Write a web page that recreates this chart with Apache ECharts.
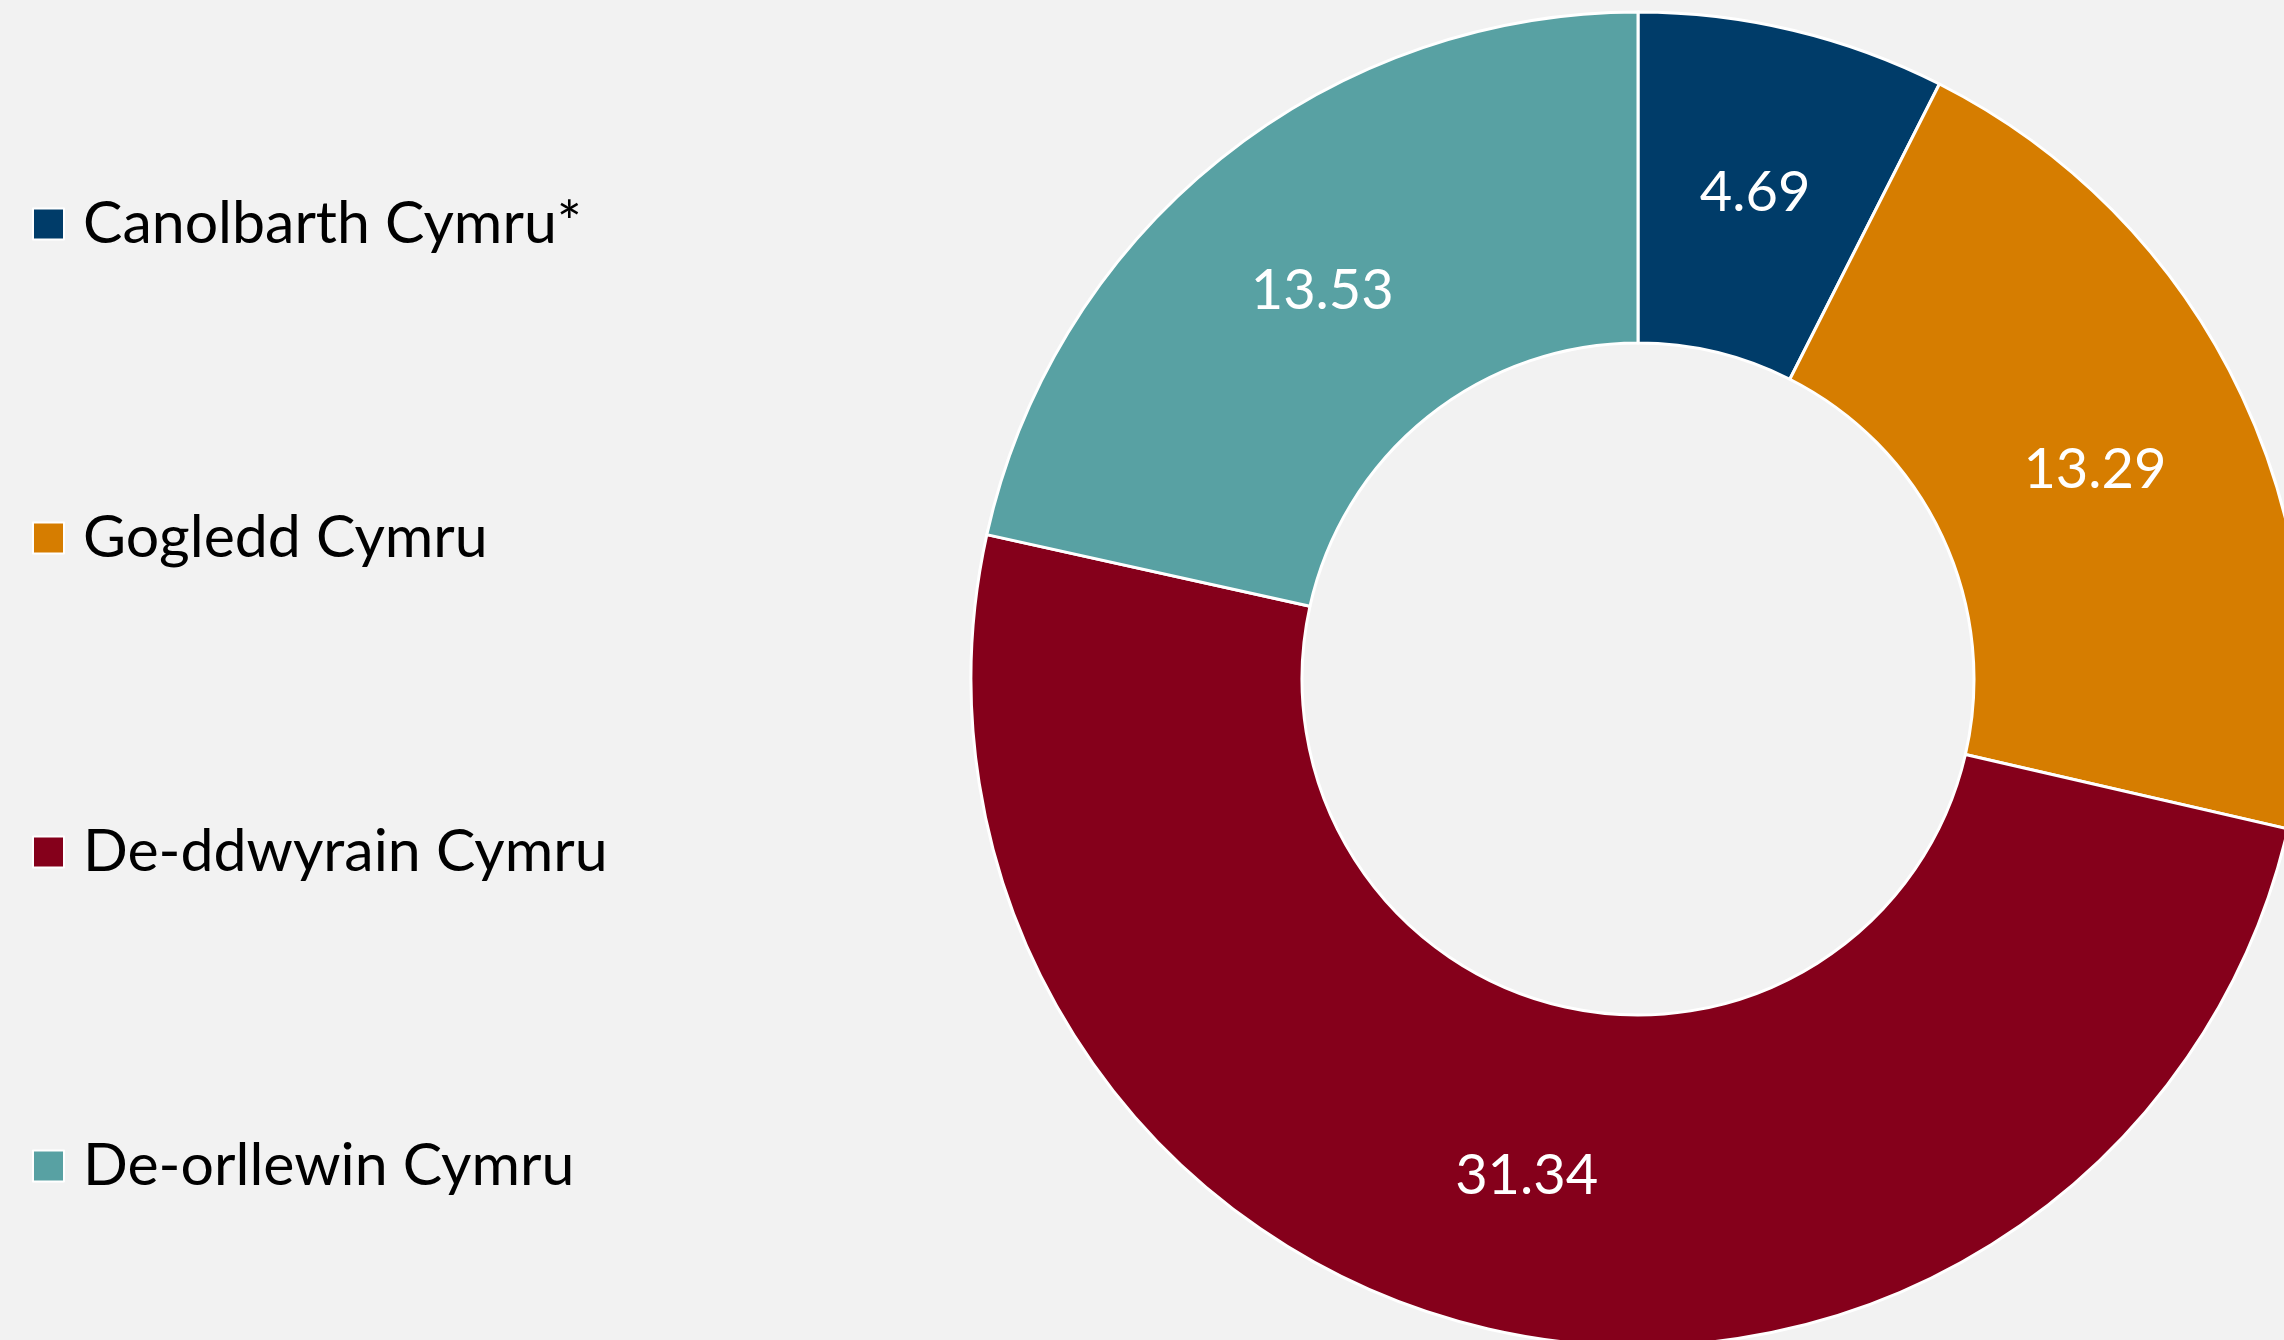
<!DOCTYPE html>
<html>
<head>
<meta charset="utf-8">
<script src="https://cdn.jsdelivr.net/npm/echarts@6/dist/echarts.min.js"></script>
<style>
  html, body { margin: 0; padding: 0; background: #f2f2f2; }
  #chart { width: 2284px; height: 1340px; }
</style>
</head>
<body>
<div id="chart"></div>
<script>
const regions = ['Canolbarth Cymru*', 'Gogledd Cymru', 'De-ddwyrain Cymru', 'De-orllewin Cymru']
const values = [4.69, 13.29, 31.34, 13.53]
const colors = ['#003c69', '#d67d00', '#85001b', '#58a1a3']

const chart = echarts.init(document.getElementById('chart'))
chart.setOption({
  animation: false,
  backgroundColor: '#f2f2f2',
  color: colors,
  legend: {
    orient: 'vertical',
    left: 27,
    top: 185,
    icon: 'rect',
    itemWidth: 31,
    itemHeight: 31,
    itemGap: 246,
    selectedMode: false,
    textStyle: {
      fontFamily: 'Lato',
      fontSize: 59,
      lineHeight: 60,
      color: '#000',
      padding: [8, 0, 0, 14]
    },
    data: regions
  },
  series: [{
    type: 'pie',
    center: [1638, 679],
    radius: [336, 667],
    startAngle: 90,
    clockwise: true,
    itemStyle: { borderColor: '#fff', borderWidth: 3 },
    label: {
      show: true,
      position: 'inside',
      formatter: '{c}',
      color: '#fff',
      fontFamily: 'Lato',
      fontSize: 56
    },
    labelLayout: { dy: 5 },
    labelLine: { show: false },
    emphasis: { disabled: true },
    data: regions.map((name, i) => ({ name, value: values[i] }))
  }]
})
</script>
</body>
</html>
